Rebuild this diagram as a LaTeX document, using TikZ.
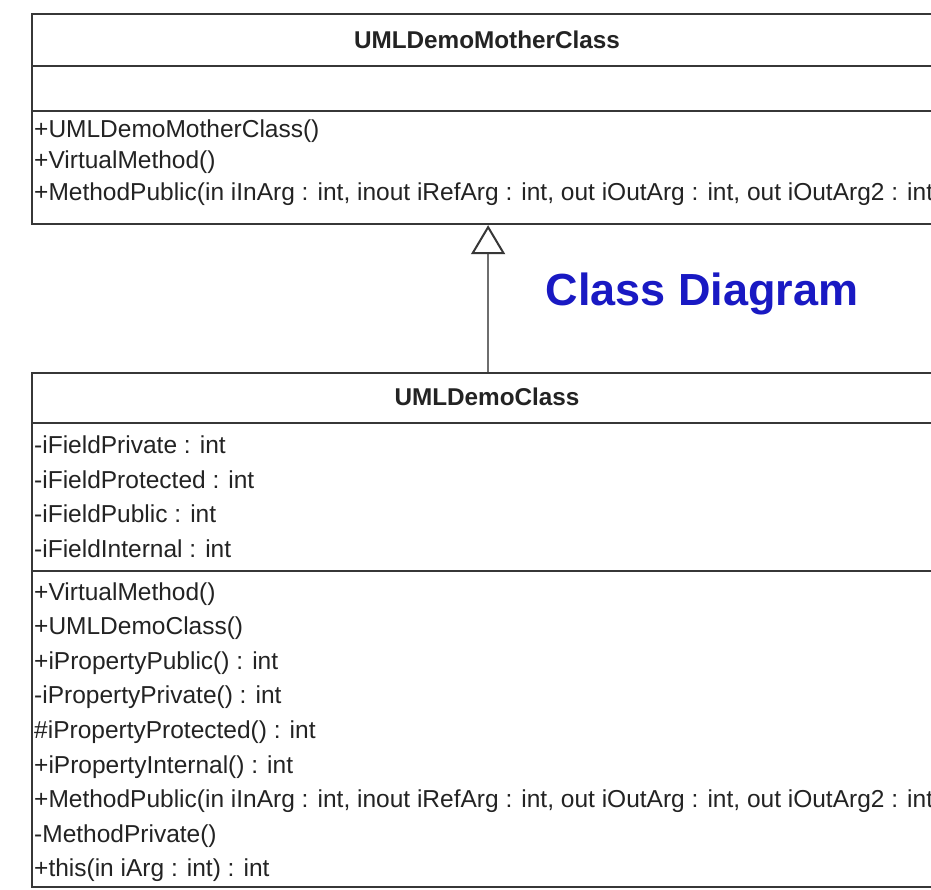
\documentclass[tikz,border=0pt]{standalone}
\usepackage{fontspec}
\setmainfont{Liberation Sans}
\usetikzlibrary{arrows.meta}
\definecolor{boxline}{RGB}{55,55,55}
\definecolor{txt}{RGB}{35,35,35}
\definecolor{arrowline}{RGB}{110,110,110}
\definecolor{titleblue}{RGB}{25,25,195}
\begin{document}
\begin{tikzpicture}[x=1pt,y=-1pt,
  classbox/.style={draw=boxline, line width=2.2pt, fill=white, rectangle, inner sep=0pt, anchor=north west},
  sepline/.style={draw=boxline, line width=2.2pt},
  member/.style={anchor=base west, inner sep=0pt, text=txt, font=\fontsize{24.5}{28}\selectfont},
  ctitle/.style={anchor=base, inner sep=0pt, text=txt, font=\fontsize{24.3}{28}\selectfont\bfseries},
  bigtitle/.style={anchor=base, inner sep=0pt, text=titleblue, font=\fontsize{45}{50}\selectfont\bfseries},
]
\clip (0,0) rectangle (931,889);
\fill[white] (0,0) rectangle (931,889);

% Mother class
\node[classbox, minimum width=912pt, minimum height=210pt] (mother) at (31,13) {};
\draw[sepline] (31,66) -- (943,66);
\draw[sepline] (31,111) -- (943,111);
\node[ctitle] (mtitle) at (487,48) {UMLDemoMotherClass};
\node[member] (m1) at (34,137) {+UMLDemoMotherClass()};
\node[member] (m2) at (34,168.5) {+VirtualMethod()};
\node[member] (m3) at (34,200) {+MethodPublic(in iInArg : int, inout iRefArg : int, out iOutArg : int, out iOutArg2 : int};

% Demo class
\node[classbox, minimum width=912pt, minimum height=514pt] (child) at (31,372) {};
\draw[sepline] (31,423) -- (943,423);
\draw[sepline] (31,571) -- (943,571);
\node[ctitle] (ctitle) at (487,405) {UMLDemoClass};
\node[member] (f1) at (34,453) {-iFieldPrivate : int};
\node[member] (f2) at (34,488) {-iFieldProtected : int};
\node[member] (f3) at (34,522.5) {-iFieldPublic : int};
\node[member] (f4) at (34,557) {-iFieldInternal : int};
\node[member] (o1) at (34,600) {+VirtualMethod()};
\node[member] (o2) at (34,634.6) {+UMLDemoClass()};
\node[member] (o3) at (34,669.2) {+iPropertyPublic() : int};
\node[member] (o4) at (34,703.8) {-iPropertyPrivate() : int};
\node[member] (o5) at (34,738.4) {\#iPropertyProtected() : int};
\node[member] (o6) at (34,773) {+iPropertyInternal() : int};
\node[member] (o7) at (34,807.6) {+MethodPublic(in iInArg : int, inout iRefArg : int, out iOutArg : int, out iOutArg2 : int};
\node[member] (o8) at (34,842.2) {-MethodPrivate()};
\node[member] (o9) at (34,876.8) {+this(in iArg : int) : int};

% Generalization
\draw[arrowline, line width=2pt, -{Triangle[open, length=29pt, width=34pt, line width=2pt, color=boxline]}] (child.north) -- (mother.south);

\node[bigtitle] (label) at (702,305) {Class Diagram};
\end{tikzpicture}
\end{document}
